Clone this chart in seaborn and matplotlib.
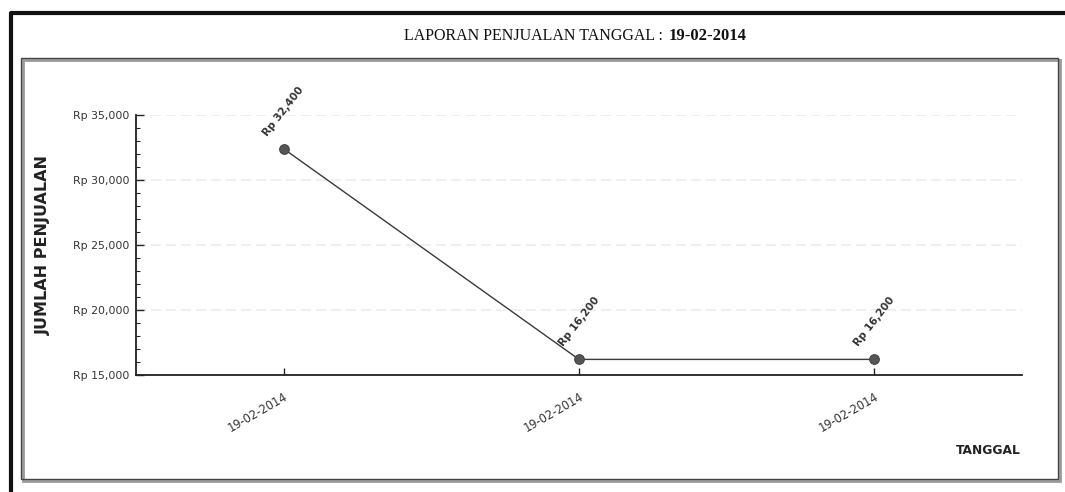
import matplotlib

matplotlib.use("Agg")

import matplotlib.pyplot as plt
import seaborn as sns
from matplotlib.lines import Line2D
from matplotlib.patches import Rectangle
from matplotlib.ticker import FuncFormatter, MultipleLocator

TANGGAL = ["19-02-2014", "19-02-2014", "19-02-2014"]
PENJUALAN = [32400, 16200, 16200]
Y_TICKS = [15000, 20000, 25000, 30000, 35000]

W, H = 1065, 492


def rupiah(v, _pos=None):
    return f"Rp {v:,.0f}"


sns.set_theme(style="white")
plt.rcParams["font.family"] = ["DejaVu Sans"]

fig = plt.figure(figsize=(W / 100, H / 100), dpi=100)
fig.patch.set_facecolor("white")
ax = fig.add_axes([136 / W, 1 - 375 / H, (1022 - 136) / W, (375 - 115) / H])

idx = list(range(len(TANGGAL)))
sns.lineplot(
    x=idx, y=PENJUALAN, ax=ax, color="#3a3a3a", linewidth=1.0,
    marker="o", markersize=7, markerfacecolor="#555555", markeredgecolor="#444444",
)

ax.set_xlim(-0.5, len(TANGGAL) - 0.5)
ax.set_ylim(Y_TICKS[0], Y_TICKS[-1])
ax.set_xticks(idx)
ax.set_xticklabels(TANGGAL, rotation=30, ha="right", rotation_mode="anchor",
                   fontsize=8.3, color="#333333")
ax.set_yticks(Y_TICKS)
ax.yaxis.set_major_formatter(FuncFormatter(rupiah))
ax.yaxis.set_minor_locator(MultipleLocator(1000))
ax.tick_params(axis="y", which="major", direction="in", length=6, width=1,
               labelsize=7.8, labelcolor="#333333", left=True, pad=5)
ax.tick_params(axis="y", which="minor", direction="in", length=3, width=0.8, left=True)
ax.tick_params(axis="x", which="major", direction="in", length=5, width=1,
               bottom=True, pad=11)

for y in Y_TICKS[1:]:
    ax.axhline(y, color="#ececec", linewidth=1.2, linestyle=(0, (6, 3)), zorder=0)

for s in ["top", "right"]:
    ax.spines[s].set_visible(False)
for s in ["left", "bottom"]:
    ax.spines[s].set_color("#222222")
    ax.spines[s].set_linewidth(1.3)

for x, v in zip(idx, PENJUALAN):
    ax.annotate(rupiah(v), (x, v), xytext=(0, 27), textcoords="offset points",
                rotation=52, ha="center", va="center", fontsize=7.5,
                fontweight="bold", color="#333333")

ax.set_xlabel("")
ax.set_ylabel("")
fig.text(43 / W, 1 - 245 / H, "JUMLAH PENJUALAN", rotation=90, ha="center",
         va="center", fontsize=11.5, fontweight="bold", color="#222222")
fig.text(1021 / W, 1 - 451 / H, "TANGGAL", ha="right", va="center",
         fontsize=8.8, fontweight="bold", color="#222222")

# title: normal part + bold date
fig.text(667 / W, 1 - 36 / H, "LAPORAN PENJUALAN TANGGAL : ", ha="right",
         va="center", fontsize=11.5, family="Liberation Serif", color="#111111")
fig.text(669 / W, 1 - 36 / H, "19-02-2014", ha="left", va="center",
         fontsize=12, family="Liberation Serif", fontweight="bold", color="#111111")

# outer frame (thick left/top) and inner box with a soft shadow
fig.add_artist(Line2D([11 / W, 11 / W, 1.0], [0.0, 1 - 13 / H, 1 - 13 / H],
                      transform=fig.transFigure, color="#111111", linewidth=3))
fig.add_artist(Rectangle((23 / W, 1 - 481 / H), (1060 - 23) / W, (481 - 60) / H,
                         transform=fig.transFigure, fill=False,
                         edgecolor="#9a9a9a", linewidth=2))
fig.add_artist(Rectangle((21 / W, 1 - 479 / H), (1058 - 21) / W, (479 - 58) / H,
                         transform=fig.transFigure, fill=False,
                         edgecolor="#444444", linewidth=1))

fig.savefig("out.png", dpi=100)
